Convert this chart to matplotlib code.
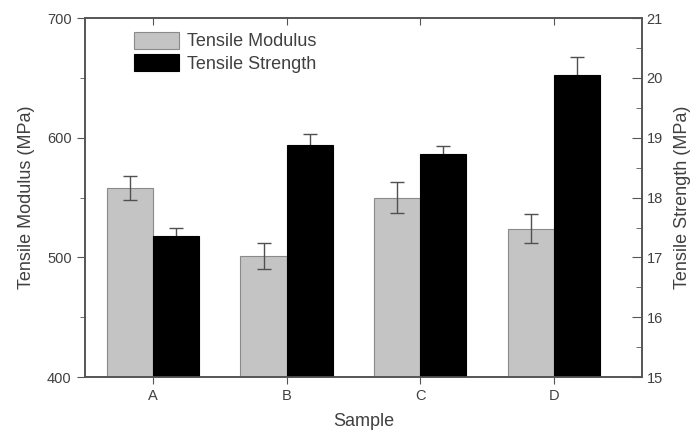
import numpy as np
import matplotlib.pyplot as plt
from matplotlib.ticker import MultipleLocator

plt.rcParams['font.family'] = ['Liberation Sans', 'DejaVu Sans']

# --- data ---
samples = ['A', 'B', 'C', 'D']
modulus = [558, 501, 550, 524]
modulus_err = [10, 11, 13, 12]
strength = [17.36, 18.88, 18.72, 20.05]
strength_err = [0.13, 0.18, 0.15, 0.30]

txt = '#404040'
x = np.arange(len(samples))
w = 0.345

fig = plt.figure(figsize=(6.96, 4.34), dpi=100)
ax = fig.add_axes([0.122, 0.131, 0.8, 0.8275])
ax2 = ax.twinx()

ekw = dict(ecolor='#505050', elinewidth=1, capsize=5, capthick=1)
b1 = ax.bar(x - w / 2, modulus, w, color='#c4c4c4', edgecolor='#8a8a8a', linewidth=0.8,
            yerr=modulus_err, error_kw=ekw, label='Tensile Modulus')
# error bars drawn under the black bars so only the upper half shows
b2 = ax2.bar(x + w / 2, strength, w, color='black', edgecolor='black', linewidth=0.8,
             yerr=strength_err, error_kw=dict(ekw, zorder=1), zorder=2,
             label='Tensile Strength')

ax.set_xlim(-0.51, 3.66)
ax.set_ylim(400, 700)
ax2.set_ylim(15, 21)

ax.set_xticks(x)
ax.set_xticklabels(samples)
ax.yaxis.set_major_locator(MultipleLocator(100))
ax.yaxis.set_minor_locator(MultipleLocator(50))
ax2.yaxis.set_major_locator(MultipleLocator(1))
ax2.yaxis.set_minor_locator(MultipleLocator(0.5))

ax.tick_params(axis='y', which='both', direction='out', colors='#555555', labelcolor=txt, labelsize=10.5)
ax.tick_params(axis='y', which='major', length=6)
ax.tick_params(axis='y', which='minor', length=3.5)
ax.tick_params(axis='x', direction='out', length=5, colors='#555555', labelcolor=txt, labelsize=10.5)
ax2.tick_params(axis='y', which='both', direction='in', colors='#555555', labelcolor=txt, labelsize=10.5)
ax2.tick_params(axis='y', which='major', length=7)
ax2.tick_params(axis='y', which='minor', length=4)

top = ax.secondary_xaxis('top')
top.set_xticks(x)
top.tick_params(axis='x', direction='in', length=5, colors='#555555', labeltop=False)
top.spines['top'].set_visible(False)

for a in (ax, ax2):
    for s in a.spines.values():
        s.set_color('#555555')
        s.set_linewidth(1.2)

ax.set_xlabel('Sample', fontsize=13, color=txt, labelpad=7)
ax.set_ylabel('Tensile Modulus (MPa)', fontsize=13, color=txt, labelpad=9)
ax2.set_ylabel('Tensile Strength (MPa)', fontsize=13, color=txt, labelpad=8)

leg = ax2.legend([b1, b2], ['Tensile Modulus', 'Tensile Strength'], loc='upper left',
                 bbox_to_anchor=(0.088, 0.962), frameon=False, fontsize=13,
                 handlelength=2.5, handleheight=1.1, handletextpad=0.45, labelspacing=0.2,
                 borderpad=0, borderaxespad=0)
for t in leg.get_texts():
    t.set_color(txt)

plt.savefig('out.png', dpi=100)
plt.close()
